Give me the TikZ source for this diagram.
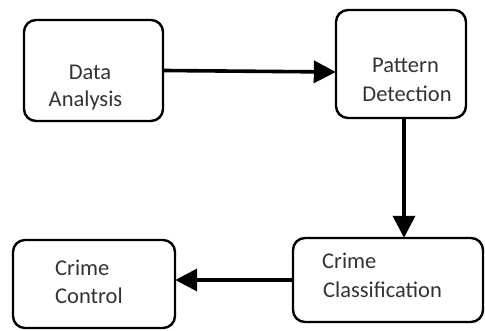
\documentclass[tikz,border=0pt]{standalone}
\usepackage{fontspec}
\setmainfont{Carlito}
\usetikzlibrary{arrows.meta}
\begin{document}
\begin{tikzpicture}[x=1pt,y=1pt,
  box/.style={draw=black, line width=2.4pt, rounded corners=12pt, rectangle, inner sep=0pt},
  lbl/.style={font=\fontsize{22.5}{27}\selectfont, text=black!80, inner sep=0pt},
  conn/.style={line width=3.6pt, -{Triangle[length=22pt,width=22pt]}, shorten >=-1pt}
]
\useasboundingbox (0,0) rectangle (485,330);
\node[box, minimum width=139pt, minimum height=101pt] (b1) at (93.5,259.5) {};
\node[box, minimum width=130pt, minimum height=108pt] (b2) at (401,266) {};
\node[box, minimum width=190pt, minimum height=84pt] (b3) at (388,50) {};
\node[box, minimum width=162pt, minimum height=88pt] (b4) at (94,46) {};
\node[lbl, anchor=base] (t1a) at (90,250) {Data};
\node[lbl, anchor=base] (t1b) at (85.5,223) {Analysis};
\node[lbl, anchor=base] (t2a) at (405.5,257) {Pattern};
\node[lbl, anchor=base] (t2b) at (407,228) {Detection};
\node[lbl, anchor=base west] (t3a) at (322,62) {Crime};
\node[lbl, anchor=base west] (t3b) at (323,33) {Classification};
\node[lbl, anchor=base west] (t4a) at (55,55) {Crime};
\node[lbl, anchor=base west] (t4b) at (55,27) {Control};
\coordinate (a2s) at ([xshift=3pt]b2.south);
\draw[conn] (b1.east) -- ([yshift=-8pt]b2.west);
\draw[conn] (a2s) -- (a2s |- b3.north);
\draw[conn] (b3.west) -- (b3.west -| b4.east);
\end{tikzpicture}
\end{document}
